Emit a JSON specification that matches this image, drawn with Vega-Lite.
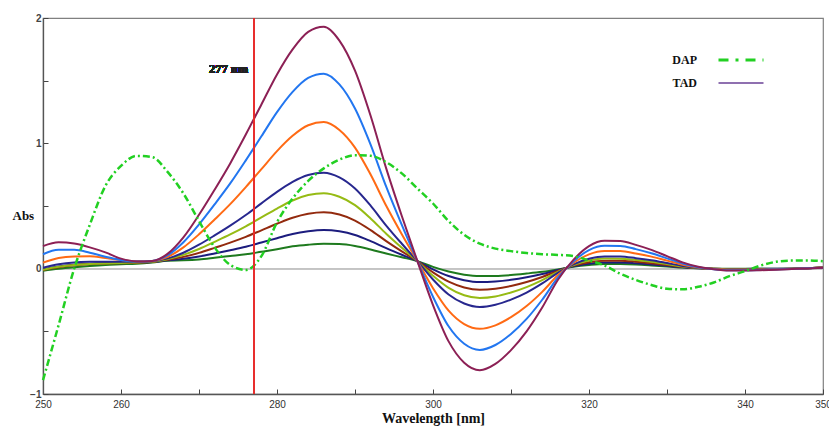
{
  "$schema": "https://vega.github.io/schema/vega-lite/v6.json",
  "width": 780,
  "height": 376,
  "autosize": {"type": "none"},
  "padding": {"left": 43, "top": 18, "right": 6, "bottom": 33},
  "background": "white",
  "config": {
    "view": {"stroke": "#808080", "strokeWidth": 1.2},
    "font": "Liberation Sans"
  },
  "data": {
    "values": [
      {"w": 250, "DAP": -0.89, "M": 0.18, "B": 0.115, "O": 0.048, "N": 0.008, "Y": -0.008, "R": -0.01, "K": -0.005, "G": -0.016},
      {"w": 252, "DAP": -0.45, "M": 0.21, "B": 0.15, "O": 0.085, "N": 0.035, "Y": 0.015, "R": 0.012, "K": 0.018, "G": 0.0},
      {"w": 254, "DAP": 0.0, "M": 0.2, "B": 0.15, "O": 0.098, "N": 0.05, "Y": 0.03, "R": 0.028, "K": 0.032, "G": 0.012},
      {"w": 256, "DAP": 0.35, "M": 0.17, "B": 0.127, "O": 0.1, "N": 0.055, "Y": 0.038, "R": 0.036, "K": 0.04, "G": 0.022},
      {"w": 258, "DAP": 0.66, "M": 0.13, "B": 0.095, "O": 0.085, "N": 0.056, "Y": 0.042, "R": 0.041, "K": 0.045, "G": 0.03},
      {"w": 260, "DAP": 0.82, "M": 0.08, "B": 0.07, "O": 0.07, "N": 0.056, "Y": 0.045, "R": 0.044, "K": 0.048, "G": 0.035},
      {"w": 262, "DAP": 0.9, "M": 0.058, "B": 0.058, "O": 0.06, "N": 0.057, "Y": 0.05, "R": 0.048, "K": 0.05, "G": 0.04},
      {"w": 264, "DAP": 0.89, "M": 0.062, "B": 0.062, "O": 0.062, "N": 0.06, "Y": 0.055, "R": 0.053, "K": 0.053, "G": 0.05},
      {"w": 266, "DAP": 0.77, "M": 0.12, "B": 0.108, "O": 0.095, "N": 0.082, "Y": 0.077, "R": 0.072, "K": 0.067, "G": 0.064},
      {"w": 268, "DAP": 0.6, "M": 0.25, "B": 0.211, "O": 0.17, "N": 0.127, "Y": 0.11, "R": 0.094, "K": 0.079, "G": 0.067},
      {"w": 270, "DAP": 0.38, "M": 0.43, "B": 0.353, "O": 0.274, "N": 0.191, "Y": 0.157, "R": 0.126, "K": 0.097, "G": 0.074},
      {"w": 272, "DAP": 0.17, "M": 0.63, "B": 0.513, "O": 0.392, "N": 0.265, "Y": 0.214, "R": 0.166, "K": 0.121, "G": 0.087},
      {"w": 274, "DAP": 0.03, "M": 0.84, "B": 0.68, "O": 0.515, "N": 0.343, "Y": 0.273, "R": 0.208, "K": 0.147, "G": 0.101},
      {"w": 276, "DAP": -0.01, "M": 1.07, "B": 0.864, "O": 0.651, "N": 0.428, "Y": 0.338, "R": 0.254, "K": 0.175, "G": 0.115},
      {"w": 278, "DAP": 0.1, "M": 1.31, "B": 1.056, "O": 0.794, "N": 0.521, "Y": 0.409, "R": 0.306, "K": 0.209, "G": 0.135},
      {"w": 280, "DAP": 0.37, "M": 1.55, "B": 1.249, "O": 0.938, "N": 0.613, "Y": 0.48, "R": 0.358, "K": 0.243, "G": 0.155},
      {"w": 282, "DAP": 0.56, "M": 1.75, "B": 1.411, "O": 1.06, "N": 0.693, "Y": 0.544, "R": 0.406, "K": 0.277, "G": 0.178},
      {"w": 284, "DAP": 0.7, "M": 1.89, "B": 1.523, "O": 1.144, "N": 0.748, "Y": 0.587, "R": 0.438, "K": 0.298, "G": 0.191},
      {"w": 286, "DAP": 0.8, "M": 1.93, "B": 1.556, "O": 1.17, "N": 0.766, "Y": 0.602, "R": 0.45, "K": 0.308, "G": 0.198},
      {"w": 288, "DAP": 0.87, "M": 1.82, "B": 1.47, "O": 1.107, "N": 0.729, "Y": 0.574, "R": 0.432, "K": 0.298, "G": 0.196},
      {"w": 290, "DAP": 0.905, "M": 1.58, "B": 1.278, "O": 0.966, "N": 0.64, "Y": 0.507, "R": 0.384, "K": 0.269, "G": 0.181},
      {"w": 292, "DAP": 0.9, "M": 1.22, "B": 0.99, "O": 0.751, "N": 0.503, "Y": 0.401, "R": 0.308, "K": 0.22, "G": 0.153},
      {"w": 294, "DAP": 0.85, "M": 0.8, "B": 0.654, "O": 0.502, "N": 0.344, "Y": 0.279, "R": 0.22, "K": 0.164, "G": 0.121},
      {"w": 296, "DAP": 0.76, "M": 0.42, "B": 0.349, "O": 0.275, "N": 0.199, "Y": 0.167, "R": 0.138, "K": 0.111, "G": 0.091},
      {"w": 298, "DAP": 0.64, "M": 0.06, "B": 0.06, "O": 0.06, "N": 0.06, "Y": 0.06, "R": 0.06, "K": 0.06, "G": 0.06},
      {"w": 300, "DAP": 0.52, "M": -0.29, "B": -0.224, "O": -0.156, "N": -0.086, "Y": -0.057, "R": -0.03, "K": -0.005, "G": 0.014},
      {"w": 302, "DAP": 0.38, "M": -0.58, "B": -0.46, "O": -0.335, "N": -0.206, "Y": -0.153, "R": -0.104, "K": -0.058, "G": -0.023},
      {"w": 304, "DAP": 0.27, "M": -0.75, "B": -0.599, "O": -0.442, "N": -0.278, "Y": -0.212, "R": -0.15, "K": -0.092, "G": -0.048},
      {"w": 306, "DAP": 0.2, "M": -0.81, "B": -0.648, "O": -0.48, "N": -0.306, "Y": -0.234, "R": -0.168, "K": -0.107, "G": -0.059},
      {"w": 308, "DAP": 0.16, "M": -0.76, "B": -0.609, "O": -0.452, "N": -0.288, "Y": -0.222, "R": -0.16, "K": -0.102, "G": -0.058},
      {"w": 310, "DAP": 0.14, "M": -0.65, "B": -0.521, "O": -0.387, "N": -0.247, "Y": -0.19, "R": -0.138, "K": -0.089, "G": -0.051},
      {"w": 312, "DAP": 0.125, "M": -0.5, "B": -0.401, "O": -0.298, "N": -0.191, "Y": -0.147, "R": -0.106, "K": -0.069, "G": -0.039},
      {"w": 314, "DAP": 0.115, "M": -0.31, "B": -0.248, "O": -0.185, "N": -0.118, "Y": -0.091, "R": -0.066, "K": -0.043, "G": -0.025},
      {"w": 316, "DAP": 0.11, "M": -0.09, "B": -0.072, "O": -0.053, "N": -0.033, "Y": -0.025, "R": -0.018, "K": -0.011, "G": -0.006},
      {"w": 318, "DAP": 0.1, "M": 0.07, "B": 0.058, "O": 0.046, "N": 0.034, "Y": 0.028, "R": 0.024, "K": 0.019, "G": 0.016},
      {"w": 320, "DAP": 0.065, "M": 0.18, "B": 0.148, "O": 0.114, "N": 0.079, "Y": 0.065, "R": 0.052, "K": 0.04, "G": 0.03},
      {"w": 322, "DAP": 0.025, "M": 0.222, "B": 0.182, "O": 0.141, "N": 0.098, "Y": 0.081, "R": 0.064, "K": 0.049, "G": 0.038},
      {"w": 324, "DAP": -0.04, "M": 0.22, "B": 0.181, "O": 0.14, "N": 0.097, "Y": 0.08, "R": 0.064, "K": 0.049, "G": 0.037},
      {"w": 326, "DAP": -0.09, "M": 0.19, "B": 0.156, "O": 0.121, "N": 0.084, "Y": 0.069, "R": 0.056, "K": 0.043, "G": 0.033},
      {"w": 328, "DAP": -0.13, "M": 0.15, "B": 0.123, "O": 0.096, "N": 0.067, "Y": 0.055, "R": 0.044, "K": 0.034, "G": 0.026},
      {"w": 330, "DAP": -0.16, "M": 0.1, "B": 0.082, "O": 0.064, "N": 0.045, "Y": 0.037, "R": 0.03, "K": 0.023, "G": 0.018},
      {"w": 332, "DAP": -0.165, "M": 0.05, "B": 0.041, "O": 0.032, "N": 0.022, "Y": 0.018, "R": 0.015, "K": 0.011, "G": 0.009},
      {"w": 334, "DAP": -0.145, "M": 0.015, "B": 0.012, "O": 0.01, "N": 0.007, "Y": 0.006, "R": 0.005, "K": 0.004, "G": 0.003},
      {"w": 336, "DAP": -0.11, "M": -0.005, "B": -0.004, "O": -0.003, "N": -0.002, "Y": -0.001, "R": -0.001, "K": 0.0, "G": 0.0},
      {"w": 338, "DAP": -0.06, "M": -0.015, "B": -0.012, "O": -0.009, "N": -0.006, "Y": -0.004, "R": -0.003, "K": -0.002, "G": -0.001},
      {"w": 340, "DAP": -0.02, "M": -0.015, "B": -0.012, "O": -0.009, "N": -0.006, "Y": -0.004, "R": -0.003, "K": -0.002, "G": -0.001},
      {"w": 342, "DAP": 0.025, "M": -0.012, "B": -0.01, "O": -0.007, "N": -0.004, "Y": -0.003, "R": -0.002, "K": -0.001, "G": -0.001},
      {"w": 344, "DAP": 0.055, "M": -0.008, "B": -0.006, "O": -0.005, "N": -0.003, "Y": -0.002, "R": -0.002, "K": -0.001, "G": 0.0},
      {"w": 346, "DAP": 0.065, "M": -0.003, "B": -0.002, "O": -0.002, "N": 0.0, "Y": 0.0, "R": 0.0, "K": 0.0, "G": 0.0},
      {"w": 348, "DAP": 0.066, "M": 0.002, "B": 0.003, "O": 0.003, "N": 0.004, "Y": 0.004, "R": 0.004, "K": 0.004, "G": 0.004},
      {"w": 350, "DAP": 0.06, "M": 0.008, "B": 0.008, "O": 0.009, "N": 0.01, "Y": 0.01, "R": 0.01, "K": 0.01, "G": 0.01}
    ]
  },
  "layer": [
    {
      "mark": {"type": "rule", "color": "#c4c4c4", "strokeWidth": 1},
      "encoding": {"y": {"datum": 0, "type": "quantitative", "scale": {"domain": [-1, 2], "nice": false}}}
    },
    {
      "transform": [{"fold": ["G", "K", "R", "Y", "N", "O", "B", "M"], "as": ["curve", "abs"]}],
      "mark": {"type": "line", "interpolate": "monotone", "strokeWidth": 2},
      "encoding": {
        "x": {
          "field": "w", "type": "quantitative",
          "scale": {"domain": [250, 350], "nice": false, "zero": false},
          "axis": {
            "values": [250, 260, 270, 280, 290, 300, 310, 320, 330, 340, 350],
            "labelExpr": "(datum.value % 20 == 0 || datum.value == 250 || datum.value == 350) ? datum.label : ''",
            "grid": false,
            "tickSize": -5,
            "tickColor": "#444",
            "domainColor": "#555",
            "domainWidth": 1.3,
            "labelFont": "Liberation Sans",
            "labelFontSize": 10,
            "labelColor": "#333",
            "labelPadding": 10,
            "labelFlush": false,
            "labelOverlap": false,
            "title": "Wavelength [nm]",
            "titleFont": "Liberation Serif",
            "titleFontWeight": "bold",
            "titleFontSize": 14,
            "titleColor": "#111",
            "titleBaseline": "middle",
            "titleY": 24
          }
        },
        "y": {
          "field": "abs", "type": "quantitative",
          "scale": {"domain": [-1, 2], "nice": false, "zero": false},
          "axis": {
            "values": [-1, -0.5, 0, 0.5, 1, 1.5, 2],
            "labelExpr": "(datum.value % 1 == 0) ? format(datum.value, 'd') : ''",
            "grid": false,
            "tickSize": -5,
            "tickColor": "#444",
            "domainColor": "#555",
            "domainWidth": 1.3,
            "labelFont": "Liberation Sans",
            "labelFontSize": 10,
            "labelFontWeight": "bold",
            "labelColor": "#444",
            "labelPadding": 7,
            "labelFlush": false,
            "labelOverlap": false,
            "title": "Abs",
            "titleAngle": 0,
            "titleFont": "Liberation Serif",
            "titleFontWeight": "bold",
            "titleFontSize": 13,
            "titleColor": "#111",
            "titleAlign": "left",
            "titleBaseline": "middle",
            "titleX": -31,
            "titleY": 197
          }
        },
        "color": {
          "field": "curve", "type": "nominal",
          "scale": {
            "domain": ["G", "K", "R", "Y", "N", "O", "B", "M"],
            "range": ["#1e7a1e", "#1c1c7e", "#932a0e", "#96bb14", "#27278e", "#ff6a14", "#2276f0", "#8c2055"]
          },
          "legend": null
        }
      }
    },
    {
      "transform": [{"fold": ["DAP"], "as": ["series", "abs"]}],
      "mark": {"type": "line", "interpolate": "monotone", "strokeWidth": 2.5, "strokeDash": [7, 3, 2, 3]},
      "encoding": {
        "x": {"field": "w", "type": "quantitative"},
        "y": {"field": "abs", "type": "quantitative"},
        "color": {
          "field": "series", "type": "nominal",
          "scale": {"domain": ["DAP", "TAD"], "range": ["#22d022", "#8f70b0"]},
          "legend": {
            "title": null,
            "orient": "none",
            "legendX": 692,
            "legendY": 36,
            "padding": 0,
            "symbolType": "M-5,0H5",
            "symbolSize": 81,
            "symbolStrokeWidth": 2.5,
            "rowPadding": 10,
            "labelAlign": "right",
            "labelOffset": -50,
            "labelFont": "Liberation Serif",
            "labelFontWeight": "bold",
            "labelFontSize": 12,
            "labelColor": "#111",
            "encode": {
              "symbols": {
                "update": {
                  "strokeDash": {"signal": "datum.value == 'DAP' ? [10, 7, 3, 7] : [1, 0]"},
                  "strokeWidth": {"signal": "datum.value == 'DAP' ? 3.2 : 2.2"}
                }
              }
            }
          }
        }
      }
    },
    {
      "mark": {"type": "rule", "color": "#e8302e", "strokeWidth": 0.9},
      "encoding": {"x": {"datum": 277, "type": "quantitative"}}
    },
    {
      "mark": {"type": "text", "text": "277 nm", "font": "Liberation Serif", "fontWeight": "bold", "fontSize": 12.5, "color": "#222", "align": "right", "baseline": "middle"},
      "encoding": {
        "x": {"datum": 276.3, "type": "quantitative"},
        "y": {"datum": 1.59, "type": "quantitative"}
      }
    }
  ],
  "resolve": {"scale": {"color": "independent"}}
}
